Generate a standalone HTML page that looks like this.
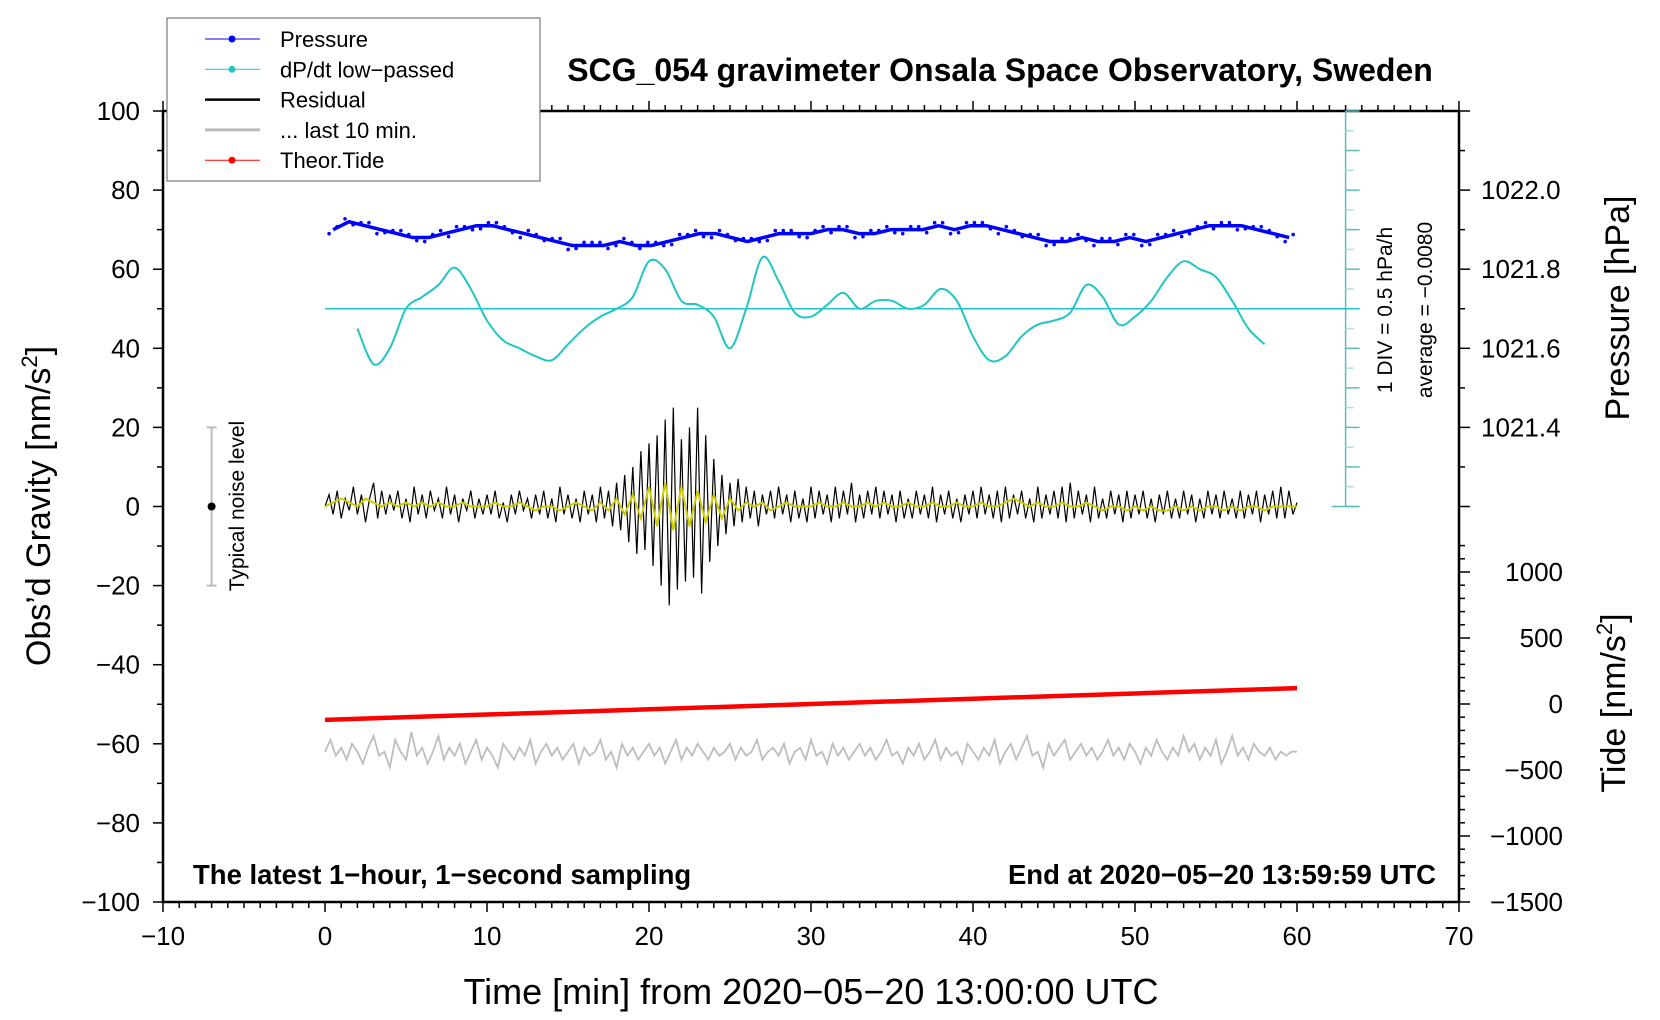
<!DOCTYPE html>
<html><head><meta charset="utf-8"><style>
body{margin:0;background:#fff}
svg{display:block;font-family:"Liberation Sans",Arial,sans-serif}
</style></head><body>
<svg id="chart" width="1660" height="1020" viewBox="0 0 1660 1020" xmlns="http://www.w3.org/2000/svg"></svg>
<script>
// ---- data ----
const pressureHPa = [1021.90,1021.92,1021.91,1021.90,1021.89,1021.88,1021.88,1021.89,1021.90,1021.91,1021.91,1021.90,1021.89,1021.88,1021.87,1021.86,1021.86,1021.86,1021.87,1021.86,1021.86,1021.87,1021.88,1021.89,1021.89,1021.88,1021.87,1021.88,1021.89,1021.89,1021.89,1021.90,1021.90,1021.89,1021.89,1021.90,1021.90,1021.90,1021.91,1021.90,1021.91,1021.91,1021.90,1021.89,1021.88,1021.87,1021.87,1021.88,1021.87,1021.87,1021.88,1021.87,1021.88,1021.89,1021.90,1021.91,1021.91,1021.91,1021.90,1021.89,1021.88];
const dpdtStart = 2;
const dpdtHPaPerH = [-0.25,-0.7,-0.5,0,0.15,0.3,0.52,0.25,-0.15,-0.4,-0.5,-0.6,-0.65,-0.45,-0.25,-0.1,0,0.15,0.6,0.5,0.1,0.05,-0.1,-0.5,0,0.65,0.35,-0.05,-0.1,0.05,0.2,0,0.1,0.1,0,0.05,0.25,0.1,-0.35,-0.65,-0.6,-0.35,-0.2,-0.15,-0.05,0.3,0.15,-0.2,-0.1,0.1,0.4,0.6,0.5,0.4,0.1,-0.25,-0.45];
const residual = [0,3,-2,4,-3,2,-1,5,-2,3,-4,2,6,-3,4,-2,3,-1,4,-3,
2,-4,5,-2,3,-3,4,-1,2,-3,5,-2,3,-4,2,-1,4,-3,2,-2,
3,-2,4,-3,1,-4,3,-2,4,-1,2,-3,3,-2,4,-3,2,-4,5,-2,
3,-3,2,-4,4,-2,3,-4,5,-3,4,-5,6,-6,8,-9,10,-12,14,-11,
16,-15,18,-20,22,-25,25,-21,17,-19,20,-18,25,-22,18,-14,12,-10,8,-7,
6,-5,7,-4,5,-3,4,-5,3,-2,4,-3,5,-2,3,-4,4,-3,2,-4,
5,-3,4,-2,3,-4,5,-3,4,-2,6,-4,3,-3,4,-2,5,-3,4,-2,
3,-4,4,-3,2,-3,4,-2,3,-3,5,-4,3,-2,4,-3,2,-4,3,-2,
4,-3,5,-2,3,-3,4,-4,5,-3,3,-2,4,-3,2,-4,5,-3,3,-2,
4,-3,5,-4,6,-3,4,-2,3,-4,5,-3,2,-3,4,-2,3,-4,4,-3,
3,-2,4,-3,2,-4,3,-2,4,-3,2,-3,4,-2,3,-4,2,-3,4,-2,
3,-3,4,-2,2,-3,4,-3,3,-2,4,-4,3,-2,4,-3,5,-3,4,-2,1];
const smoothed = [0,1,2,1,0,2,1,0,1,0,1,0,1,0,1,0,0,1,0,0,
0,1,0,0,1,0,-1,0,0,-1,0,1,0,-1,1,-1,2,-2,3,-3,
5,-5,6,-6,5,-5,4,-4,3,-3,2,-1,1,0,1,-1,0,1,0,0,
0,1,0,0,1,0,0,1,0,1,0,0,1,0,0,1,0,0,1,0,
0,1,0,0,1,2,1,0,1,0,0,1,0,0,1,0,-1,0,0,-1,
0,-1,0,-1,-1,0,-1,0,-1,0,0,-1,0,-1,0,0,-1,0,0,0,0];
const last10 = [-62,-59,-63,-61,-64,-60,-62,-65,-61,-58,-63,-62,-66,-59,-62,-64,-57,-63,-61,-65,
-62,-58,-64,-61,-63,-60,-65,-62,-59,-64,-61,-63,-66,-60,-62,-64,-61,-63,-59,-65,
-62,-60,-63,-61,-64,-62,-60,-65,-61,-63,-62,-59,-64,-62,-66,-60,-63,-61,-64,-62,
-60,-63,-61,-65,-62,-59,-64,-61,-63,-60,-62,-64,-61,-63,-62,-60,-64,-61,-63,-62,
-59,-64,-62,-61,-63,-60,-65,-62,-61,-64,-59,-63,-62,-65,-60,-63,-61,-64,-62,-60,
-63,-61,-64,-62,-59,-63,-62,-65,-61,-63,-60,-64,-62,-59,-64,-61,-63,-62,-65,-60,
-62,-64,-61,-63,-59,-65,-62,-60,-64,-61,-58,-63,-62,-66,-60,-63,-61,-59,-64,-62,
-60,-63,-61,-64,-62,-59,-63,-61,-64,-60,-62,-65,-61,-63,-59,-62,-64,-61,-63,-58,
-62,-60,-64,-61,-63,-59,-65,-62,-58,-63,-61,-64,-60,-62,-63,-61,-64,-62,-63,-62,-62];
const tideMin = [0,10,20,30,40,50,60];
const tideVal = [-120,-80,-40,0,40,80,120];
const xTicks = [-10,0,10,20,30,40,50,60,70];
const yTicks = [-100,-80,-60,-40,-20,0,20,40,60,80,100];
const pTicks = ["1022.0","1021.8","1021.6","1021.4"];
const tTicks = [1000,500,0,-500,-1000,-1500];

// ---- axes ----
const X0=163,X1=1459,Y0=902,Y1=111;
const xs=v=>X0+(v+10)*(X1-X0)/80;
const ys=v=>Y0-(v+100)*(Y0-Y1)/200;
const yp=p=>ys(80+(p-1022)*100);
const yt=t=>902-(t+1500)*(330/2500);
const yd=d=>ys(50+d*20);

const svg=document.getElementById('chart');
const NS='http://www.w3.org/2000/svg';
function el(tag,attrs,parent){const e=document.createElementNS(NS,tag);for(const k in attrs)e.setAttribute(k,attrs[k]);(parent||svg).appendChild(e);return e;}
function txt(s,attrs){const e=el('text',attrs);e.textContent=s;return e;}

let f=el('rect',{x:X0,y:Y1,width:X1-X0,height:Y0-Y1,fill:'none',stroke:'#000','stroke-width':2.5});



for(let v=-10;v<=70;v++){const major=v%10===0;
 el('line',{x1:xs(v),x2:xs(v),y1:Y0,y2:Y0+(major?10:6),stroke:'#000','stroke-width':1.5});
 el('line',{x1:xs(v),x2:xs(v),y1:Y1,y2:Y1-(major?10:6),stroke:'#000','stroke-width':1.5});}
xTicks.forEach(v=>{const t=txt(String(v).replace('-','\u2212'),{x:xs(v),y:945,'font-size':26,'text-anchor':'middle'});
 
 });
for(let v=-100;v<=100;v+=10){const major=v%20===0;
 el('line',{x1:X0,x2:X0-(major?10:6),y1:ys(v),y2:ys(v),stroke:'#000','stroke-width':1.5});}
yTicks.forEach(v=>{const t=txt(String(v).replace('-','\u2212'),{x:140,y:ys(v)+9,'font-size':26,'text-anchor':'end'});
 
 });
for(let i=0;i<=10;i++){const p=1022.2-i*0.1;const major=i%2===0;
 el('line',{x1:X1,x2:X1+(major?11:6),y1:yp(p),y2:yp(p),stroke:'#000','stroke-width':1.5});}
pTicks.forEach(s=>{const t=txt(s,{x:1481,y:yp(parseFloat(s))+9,'font-size':26});
 
 });
for(let v=-1500;v<=1200;v+=100){const major=v%500===0;
 el('line',{x1:X1,x2:X1+(major?11:6),y1:yt(v),y2:yt(v),stroke:'#000','stroke-width':1.5});}
tTicks.forEach(v=>{const t=txt(String(v).replace('-','\u2212'),{x:1563,y:yt(v)+9,'font-size':26,'text-anchor':'end'});
 
 });

// dP/dt scale bar
const cyan='#22c4c4';
el('line',{x1:xs(63),x2:xs(63),y1:ys(100),y2:ys(0),stroke:'#5bbcbc','stroke-width':1.5});
for(let v=0;v<=100;v+=5){el('line',{x1:xs(63),x2:xs(63)+(v%10===0?14:8),y1:ys(v),y2:ys(v),stroke:v%10===0?'#5bbcbc':'#a8e0e0','stroke-width':1.5});}
el('line',{x1:xs(63)-14,x2:xs(63)+14,y1:ys(0),y2:ys(0),stroke:'#5bbcbc','stroke-width':1.5});
el('line',{x1:xs(0),x2:xs(63)+14,y1:ys(50),y2:ys(50),stroke:cyan,'stroke-width':1.5});
txt('1 DIV = 0.5 hPa/h',{transform:`translate(1392,310) rotate(-90)`,'font-size':21,'text-anchor':'middle'});
txt('average = \u22120.0080',{transform:`translate(1432,310) rotate(-90)`,'font-size':21,'text-anchor':'middle'});

// noise level
el('line',{x1:xs(-7),x2:xs(-7),y1:ys(20),y2:ys(-20),stroke:'#bbb','stroke-width':2});
el('line',{x1:xs(-7)-5,x2:xs(-7)+5,y1:ys(20),y2:ys(20),stroke:'#bbb','stroke-width':2});
el('line',{x1:xs(-7)-5,x2:xs(-7)+5,y1:ys(-20),y2:ys(-20),stroke:'#bbb','stroke-width':2});
el('circle',{cx:xs(-7),cy:ys(0),r:4,fill:'#000'});
txt('Typical noise level',{transform:`translate(244,506) rotate(-90)`,'font-size':21,'text-anchor':'middle'});

// tide
let tp=tideMin.map((m,i)=>`${xs(m)},${yt(tideVal[i])}`).join(' ');
let tideLine=el('polyline',{points:tp,fill:'none',stroke:'#f00','stroke-width':4.5});



let gp=last10.map((v,i)=>`${xs(i/3)},${ys(v)}`).join(' ');
let g=el('polyline',{points:gp,fill:'none',stroke:'#bdbdbd','stroke-width':1.8});



let rp=residual.map((v,i)=>`${xs(i/4)},${ys(v)}`).join(' ');
let r=el('polyline',{points:rp,fill:'none',stroke:'#000','stroke-width':1.2});


let sp=smoothed.map((v,i)=>`${xs(i/2)},${ys(v)}`).join(' ');
let s=el('polyline',{points:sp,fill:'none',stroke:'#cccc00','stroke-width':2});



const dpts=dpdtHPaPerH.map((v,i)=>[xs(dpdtStart+i),yd(v)]);
let d=`M${dpts[0][0]},${dpts[0][1]}`;
for(let i=0;i<dpts.length-1;i++){const p0=dpts[Math.max(0,i-1)],p1=dpts[i],p2=dpts[i+1],p3=dpts[Math.min(dpts.length-1,i+2)];
 d+=` C${p1[0]+(p2[0]-p0[0])/6},${p1[1]+(p2[1]-p0[1])/6} ${p2[0]-(p3[0]-p1[0])/6},${p2[1]-(p3[1]-p1[1])/6} ${p2[0]},${p2[1]}`;}
let dp=el('path',{d:d,fill:'none',stroke:cyan,'stroke-width':2});



// pressure
let pp=pressureHPa.map((v,i)=>`${xs(i*60/61+0.5)},${yp(v)}`).join(' ');
let pl=el('polyline',{points:pp,fill:'none',stroke:'#0000ff','stroke-width':3.5,'stroke-linejoin':'round'});


pressureHPa.forEach((v,i)=>{const x=xs(i*60/61+0.5);
 el('circle',{cx:x-4,cy:yp(v)+(i%3===0?4:-3),r:1.8,fill:'#0000ff'});
 el('circle',{cx:x+4,cy:yp(v)+(i%2===0?-3:3),r:1.8,fill:'#0000ff'});});

// legend
let lg=el('g',{});


el('rect',{x:167,y:18,width:373,height:163,fill:'#fff',stroke:'#777','stroke-width':1.2},lg);
const leg=[['Pressure','#0000ff',1,true],['dP/dt low\u2212passed',cyan,1,true],['Residual','#000',2.5,false],['... last 10 min.','#bbb',3,false],['Theor.Tide','#f00',1,true]];
leg.forEach((L,i)=>{const y=39+i*30.3;
 el('line',{x1:205,x2:260,y1:y,y2:y,stroke:L[1],'stroke-width':L[2]},lg);
 if(L[3])el('circle',{cx:232,cy:y,r:3.5,fill:L[1]},lg);
 const t=el('text',{x:280,y:y+8,'font-size':22},lg);t.textContent=L[0];});

// texts
txt('SCG_054 gravimeter Onsala Space Observatory, Sweden',{x:1000,y:81,'font-size':32,'font-weight':'bold','text-anchor':'middle'});
txt('The latest 1\u2212hour, 1\u2212second sampling',{x:193,y:884,'font-size':27.5,'font-weight':'bold'});
txt('End at 2020\u221205\u221220 13:59:59 UTC',{x:1436,y:884,'font-size':27.5,'font-weight':'bold','text-anchor':'end'});
let xt=txt('Time [min] from 2020\u221205\u221220 13:00:00 UTC',{x:811,y:1004,'font-size':36,'text-anchor':'middle'});


let yl=el('text',{transform:'translate(50,506) rotate(-90)','font-size':34,'text-anchor':'middle'});
yl.innerHTML='Obs\u2019d Gravity [nm/s<tspan dy="-13" font-size="22">2</tspan><tspan dy="13">]</tspan>';


let pr=txt('Pressure [hPa]',{transform:'translate(1629,308) rotate(-90)','font-size':34,'text-anchor':'middle'});


let ti=el('text',{transform:'translate(1625,703) rotate(-90)','font-size':34,'text-anchor':'middle'});
ti.innerHTML='Tide [nm/s<tspan dy="-13" font-size="22">2</tspan><tspan dy="13">]</tspan>';


</script>
</body></html>
